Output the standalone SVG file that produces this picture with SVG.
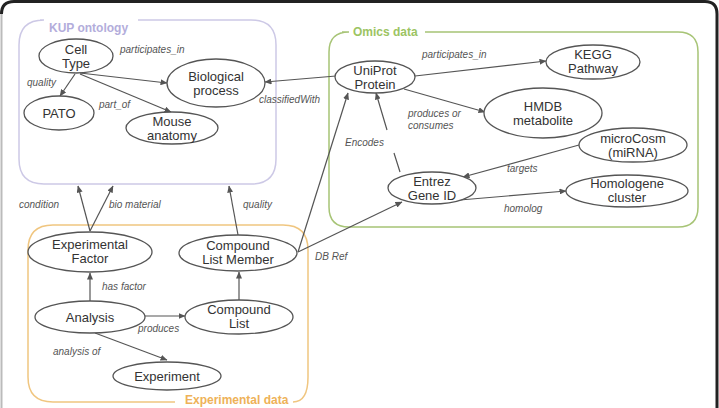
<svg xmlns="http://www.w3.org/2000/svg" width="719" height="408" viewBox="0 0 719 408">
<style>
.node ellipse{fill:#fff;stroke:#555;stroke-width:1.3}
.node text{font-family:"Liberation Sans",Arial,sans-serif;font-size:13px;fill:#333;text-anchor:middle}
.edge{fill:none;stroke:#555;stroke-width:1.2;marker-end:url(#ah)}
.lbl{font-family:"Liberation Sans",Arial,sans-serif;font-size:10px;font-style:italic;fill:#555}
.title{font-family:"Liberation Sans",Arial,sans-serif;font-size:12px;font-weight:bold}
</style>
<defs>
<marker id="ah" markerWidth="7" markerHeight="6" refX="6.5" refY="3" orient="auto" markerUnits="userSpaceOnUse">
<path d="M0,0 L7,3 L0,6 z" fill="#555"/>
</marker>
</defs>
<rect width="719" height="408" fill="#fff"/>
<path d="M1.5,420 L1.5,14" fill="none" stroke="#bbb" stroke-width="2"/>
<path d="M1.5,14 Q1.5,1.5 14,1.5 L705,1.5 Q717,1.5 717,14 L717,420" fill="none" stroke="#222" stroke-width="3"/>

<g id="groups">
<g id="kup-box">
<path d="M40,20 L44,20 Q19,20 19,45 L19,159 Q19,184 44,184 L251,184 Q276,184 276,159 L276,45 Q276,20 251,20 L138,20" fill="none" stroke="#cdc9e6" stroke-width="1.5"/>
<text class="title" x="49" y="32" fill="#b3addb">KUP ontology</text>
</g>
<g id="omics-box">
<path d="M342,32 L349,32 Q329,32 329,52 L329,207 Q329,227 349,227 L678,227 Q698,227 698,207 L698,52 Q698,32 678,32 L425,32" fill="none" stroke="#a7c476" stroke-width="1.5"/>
<text class="title" x="353" y="36" fill="#9cc462">Omics data</text>
</g>
<g id="exp-box">
<path d="M175,402 L53,402 Q28,402 28,377 L28,250 Q28,225 53,225 L283,225 Q308,225 308,250 L308,377 Q308,402 293,402" fill="none" stroke="#f0c680" stroke-width="1.5"/>
<text class="title" x="185" y="404" fill="#eeb258">Experimental data</text>
</g>
</g>

<g id="connectors">
<path class="edge" d="M80,73 L167,83"/>
<path class="edge" d="M75,74 L60,96"/>
<path class="edge" d="M80,74 L171,112"/>
<path class="edge" d="M336,76 L265,82"/>
<path class="edge" d="M415,76 L546,61"/>
<path class="edge" d="M404,89 L485,112"/>
<path class="edge" d="M400,172 L394,153 M387,130 L376,93"/>
<path class="edge" d="M579,145 L463,177"/>
<path class="edge" d="M460,200 L566,191"/>
<path class="edge" d="M298,252 L348,93"/>
<path class="edge" d="M298,252 L402,202"/>
<path class="edge" d="M90,231 L78,186"/>
<path class="edge" d="M90,231 L113,186"/>
<path class="edge" d="M238,235 L229,186"/>
<path class="edge" d="M90,301 L90,273"/>
<path class="edge" d="M145,316 L185,316"/>
<path class="edge" d="M239,300 L239,272"/>
<path class="edge" d="M95,333 L167,360"/>
</g>

<g id="edge-labels">
<text class="lbl" x="120" y="53">participates_in</text>
<text class="lbl" x="27" y="86">quality</text>
<text class="lbl" x="99" y="108">part_of</text>
<text class="lbl" x="259" y="103">classifiedWith</text>
<text class="lbl" x="422" y="58">participates_in</text>
<text class="lbl" x="408" y="117">produces or</text>
<text class="lbl" x="408" y="129">consumes</text>
<text class="lbl" x="345" y="146">Encodes</text>
<text class="lbl" x="507" y="172">targets</text>
<text class="lbl" x="504" y="212">homolog</text>
<text class="lbl" x="19" y="208">condition</text>
<text class="lbl" x="109" y="208">bio material</text>
<text class="lbl" x="243" y="208">quality</text>
<text class="lbl" x="315" y="260">DB Ref</text>
<text class="lbl" x="102" y="290">has factor</text>
<text class="lbl" x="138" y="332">produces</text>
<text class="lbl" x="53" y="355">analysis of</text>
</g>

<g id="cell-type" class="node"><ellipse cx="76" cy="56" rx="37" ry="17"/><text x="76" y="54">Cell</text><text x="76" y="68">Type</text></g>
<g id="biological-process" class="node"><ellipse cx="216" cy="83" rx="49" ry="24"/><text x="216" y="81">Biological</text><text x="216" y="95">process</text></g>
<g id="pato" class="node"><ellipse cx="59" cy="113" rx="35" ry="17"/><text x="59" y="118">PATO</text></g>
<g id="mouse-anatomy" class="node"><ellipse cx="172" cy="128" rx="46" ry="16"/><text x="172" y="126">Mouse</text><text x="172" y="140">anatomy</text></g>

<g id="uniprot" class="node"><ellipse cx="375" cy="77" rx="40" ry="16"/><text x="375" y="75">UniProt</text><text x="375" y="89">Protein</text></g>
<g id="kegg" class="node"><ellipse cx="593" cy="62" rx="47" ry="17"/><text x="593" y="59">KEGG</text><text x="593" y="73">Pathway</text></g>
<g id="hmdb" class="node"><ellipse cx="543" cy="113" rx="59" ry="25"/><text x="543" y="111">HMDB</text><text x="543" y="125">metabolite</text></g>
<g id="microcosm" class="node"><ellipse cx="633" cy="145" rx="54" ry="17"/><text x="633" y="143">microCosm</text><text x="633" y="157">(miRNA)</text></g>
<g id="entrez" class="node"><ellipse cx="432" cy="188" rx="44" ry="16"/><text x="432" y="186">Entrez</text><text x="432" y="200">Gene ID</text></g>
<g id="homologene" class="node"><ellipse cx="627" cy="191" rx="61" ry="16"/><text x="627" y="188">Homologene</text><text x="627" y="202">cluster</text></g>

<g id="experimental-factor" class="node"><ellipse cx="90" cy="252" rx="62" ry="20"/><text x="90" y="249">Experimental</text><text x="90" y="263">Factor</text></g>
<g id="compound-list-member" class="node"><ellipse cx="238" cy="253" rx="59" ry="18"/><text x="238" y="250">Compound</text><text x="238" y="264">List Member</text></g>
<g id="analysis" class="node"><ellipse cx="90" cy="317" rx="55" ry="16"/><text x="90" y="322">Analysis</text></g>
<g id="compound-list" class="node"><ellipse cx="239" cy="317" rx="54" ry="17"/><text x="239" y="314">Compound</text><text x="239" y="328">List</text></g>
<g id="experiment" class="node"><ellipse cx="167" cy="376" rx="54" ry="14"/><text x="167" y="381">Experiment</text></g>
</svg>
